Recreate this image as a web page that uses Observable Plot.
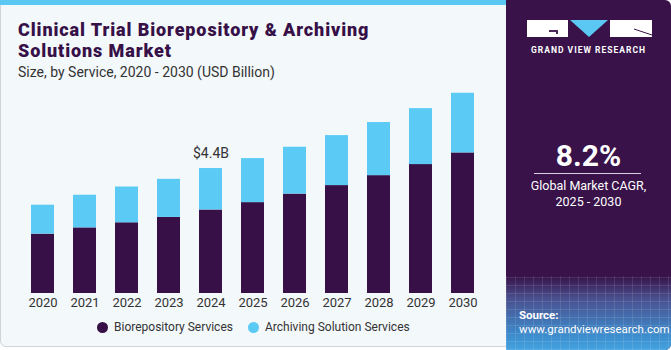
<!DOCTYPE html>
<html>
<head>
<meta charset="utf-8">
<script src="https://cdn.jsdelivr.net/npm/d3@7"></script>
<script src="https://cdn.jsdelivr.net/npm/@observablehq/plot@0.6"></script>
<style>
  html, body { margin: 0; padding: 0; background: #ffffff; }
  #wrap { position: relative; width: 671px; height: 350px; overflow: hidden; font-family: Roboto, "Liberation Sans", sans-serif; }
  #left { position: absolute; left: 0; top: 0; width: 510px; height: 347px; background: #f3f8fb; border: 1px solid #d0d4d8; border-radius: 6px; box-sizing: border-box; }
  #topbar { position: absolute; left: 0; top: 0; width: 510px; height: 5px; background: #5bc8f4; }
  #right { position: absolute; left: 506px; top: 0; width: 165px; height: 350px; background: #381249; border-radius: 0 6px 6px 0; overflow: hidden; }
  #rightGrad { position: absolute; left: 0; top: 276px; width: 165px; height: 74px;
    background:
      repeating-linear-gradient(90deg, rgba(255,255,255,0.10) 0 1px, transparent 1px 9px),
      repeating-linear-gradient(0deg, rgba(255,255,255,0.10) 0 1px, transparent 1px 8px),
      linear-gradient(180deg, #381249 0%, #4a4f8e 30%, #3d8ccd 80%, #45a3e0 100%); }
  .title { position: absolute; left: 18px; top: 19px; font-family: Roboto, "Liberation Sans", sans-serif; font-weight: 900; font-size: 18px; letter-spacing: 0.9px; line-height: 21px; color: #361047; }
  .subtitle { position: absolute; left: 18px; top: 64px; font-size: 14px; color: #333333; }
  #chart { position: absolute; left: 0; top: 80px; }
  .legend { position: absolute; top: 320px; font-size: 12px; color: #333; display: flex; align-items: center; }
  .dot { width: 11px; height: 11px; border-radius: 50%; margin-right: 6px; display: inline-block; }
  .logo { position: absolute; left: 0; top: 0; }
  .gvr { position: absolute; left: 0; width: 165px; text-align: center; color: #fff; }
</style>
</head>
<body>
<div id="wrap">
  <div id="left"></div>
  <div id="topbar"></div>
  <div class="title">Clinical Trial Biorepository &amp; Archiving<br>Solutions Market</div>
  <div class="subtitle">Size, by Service, 2020 - 2030 (USD Billion)</div>
  <div id="chart"></div>
  <div class="legend" id="lg1" style="left:97px;"><span class="dot" style="background:#371047"></span>Biorepository Services</div>
  <div class="legend" id="lg2" style="left:248px;"><span class="dot" style="background:#5bcbf5"></span>Archiving Solution Services</div>
  <div id="right">
    <div id="rightGrad"></div>
    <svg class="logo" width="165" height="60">
      <rect x="21" y="20" width="41" height="17" fill="#ffffff"/>
      <path d="M43 30 L52 30 L52 34 L50 34 L50 32 L43 32 Z" fill="#381249" opacity="0.9"/>
      <polygon points="64,20 102,20 83,37" fill="#5bc8f4"/>
      <rect x="104" y="20" width="42" height="17" fill="#ffffff"/>
      <line x1="128" y1="29" x2="146" y2="35" stroke="#381249" stroke-width="1"/>
    </svg>
    <div class="gvr" style="top:45px; font-size:8.5px; font-weight:700; letter-spacing:1px;">GRAND VIEW RESEARCH</div>
    <div class="gvr" style="top:138px; font-size:30px; font-weight:700;">8.2%</div>
    <div style="position:absolute; left:28px; top:173px; width:107px; height:1px; background:#d8d0e0;"></div>
    <div class="gvr" style="top:178px; font-size:12.5px; line-height:16px;">Global Market CAGR,<br>2025 - 2030</div>
    <div style="position:absolute; left:13px; top:308px; color:#fff; font-size:11.5px; font-weight:700;">Source:</div>
    <div style="position:absolute; left:13px; top:322px; color:#fff; font-size:11.5px;">www.grandviewresearch.com</div>
  </div>
</div>
<script>
const years = ["2020","2021","2022","2023","2024","2025","2026","2027","2028","2029","2030"];
const biorepository = [2.09, 2.31, 2.49, 2.68, 2.94, 3.20, 3.50, 3.80, 4.15, 4.54, 4.95];
const archiving = [1.02, 1.15, 1.26, 1.34, 1.46, 1.55, 1.65, 1.76, 1.87, 1.97, 2.10];
const seriesNames = ["Biorepository Services", "Archiving Solution Services"];
const seriesColors = ["#371047", "#5bcbf5"];
const annotationYear = "2024";
const annotationText = "$4.4B";

const rows = [];
years.forEach((y, i) => {
  rows.push({year: y, series: seriesNames[0], value: biorepository[i]});
  rows.push({year: y, series: seriesNames[1], value: archiving[i]});
});
const totals = years.map((y, i) => ({year: y, total: biorepository[i] + archiving[i]}));
const ann = totals.filter(d => d.year === annotationYear).map(d => ({...d, label: annotationText}));

const plot = Plot.plot({
  width: 505,
  height: 230,
  marginTop: 0,
  marginBottom: 17,
  marginLeft: 12,
  marginRight: 12,
  style: {background: "transparent", fontFamily: "Roboto, 'Liberation Sans', sans-serif"},
  x: {domain: years, padding: 0.45, label: null, tickSize: 0, tickPadding: 4},
  y: {domain: [0, 7.5], axis: null},
  color: {domain: seriesNames, range: seriesColors},
  marks: [
    Plot.barY(rows, {x: "year", y: "value", fill: "series", order: seriesNames}),
    Plot.text(ann, {x: "year", y: "total", text: "label", dy: -15, fontSize: 14, fill: "#333"}),
    Plot.axisX({tickSize: 0, tickPadding: 4, fontSize: 13, color: "#333", label: null})
  ]
});
plot.querySelectorAll("[aria-label='x-axis tick label'] text").forEach(t => t.setAttribute("font-size", 13));
document.getElementById("chart").appendChild(plot);
</script>
</body>
</html>
